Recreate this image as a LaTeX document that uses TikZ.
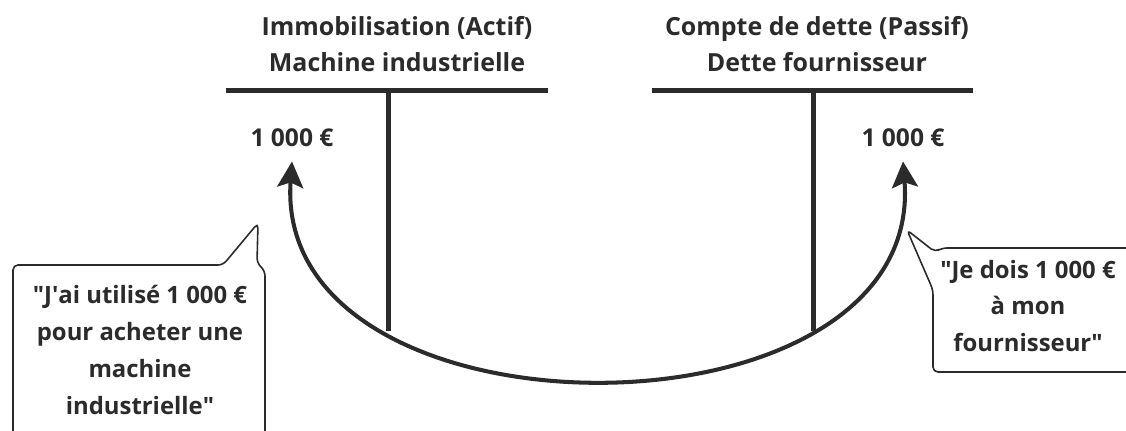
\documentclass[tikz,border=0pt]{standalone}
\usepackage{fontspec}
\setmainfont{Open Sans}
\usetikzlibrary{arrows.meta}
\definecolor{ink}{HTML}{2B2B2B}
\begin{document}
\begin{tikzpicture}[x=0.02cm,y=-0.02cm,
  title/.style={font=\fontsize{14.2}{20.5}\selectfont\bfseries, text=ink, align=center, inner sep=0pt},
  amount/.style={font=\fontsize{14}{16}\selectfont\bfseries, text=ink, inner sep=0pt},
  bubbletext/.style={font=\fontsize{13.6}{21}\selectfont\bfseries, text=ink, align=center, inner sep=0pt},
  tline/.style={draw=ink, line width=2.85pt},
  bubble/.style={draw=ink, line width=0.9pt, fill=white, rounded corners=2.8pt},
  flow/.style={draw=ink, line width=2.3pt, {Stealth[length=0.52cm,width=0.52cm,inset=0.1cm]}-{Stealth[length=0.52cm,width=0.52cm,inset=0.1cm]}}]
\useasboundingbox (0,0) rectangle (1126,430);
\fill[white] (0,0) rectangle (1126,430);
% T accounts
\coordinate (l1) at (226,90); \coordinate (l2) at (548,90);
\coordinate (lt) at (388,90); \coordinate (lb) at (388,331);
\coordinate (r1) at (652,90); \coordinate (r2) at (973,90);
\coordinate (rt) at (813,90); \coordinate (rb) at (813,331);
\draw[tline] (l1) -- (l2);
\draw[tline] (lt) -- (lb);
\draw[tline] (r1) -- (r2);
\draw[tline] (rt) -- (rb);
\node[title] (tl) at (397,44) {Immobilisation (Actif)\\Machine industrielle};
\node[title] (tr) at (817,44) {Compte de dette (Passif)\\Dette fournisseur};
\node[amount] (al) at (292,138) {1 000 €};
\node[amount] (ar) at (903,138) {1 000 €};
% arrow
\draw[flow] ([yshift=-8pt]al.south) .. controls (272,450) and (925,450) .. ([yshift=-8pt]ar.south);
% callouts
\draw[bubble] (223,265) -- (258,223) -- (257,263) -- (265,271) -- (265,445) -- (13,445) -- (13,265) -- cycle;
\node[bubbletext] (cl) at (140,350) {\textquotedbl J\textquotesingle ai utilisé 1 000 €\\pour acheter une\\machine\\industrielle\textquotedbl};
\draw[bubble] (907,230) -- (935,252) -- (942,248) -- (1135,248) -- (1135,372) -- (933,372) -- (933,290) -- cycle;
\node[bubbletext] (cr) at (1028,306) {\textquotedbl Je dois 1 000 €\\à mon\\fournisseur\textquotedbl};
\end{tikzpicture}
\end{document}
